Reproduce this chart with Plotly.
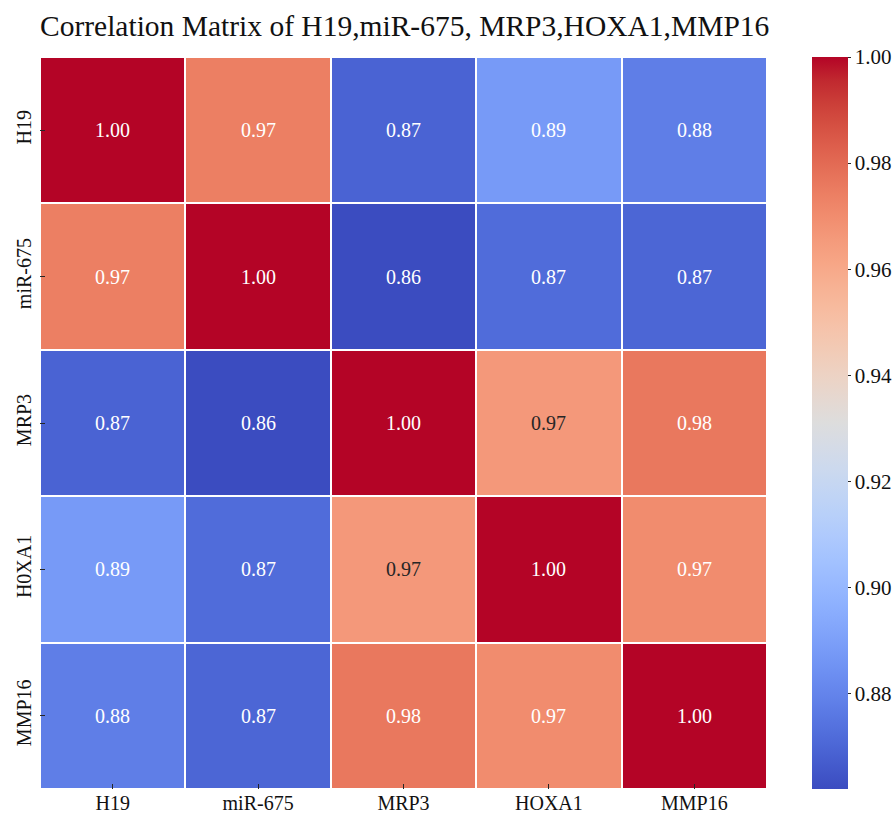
import plotly.graph_objects as go

# Correlation matrix of the five markers
x_labels = ["H19", "miR-675", "MRP3", "HOXA1", "MMP16"]
y_labels = ["H19", "miR-675", "MRP3", "H0XA1", "MMP16"]

row_h19 = [1.000, 0.974, 0.869, 0.888, 0.878]
row_mir675 = [0.974, 1.000, 0.862, 0.872, 0.870]
row_mrp3 = [0.869, 0.862, 1.000, 0.966, 0.976]
row_hoxa1 = [0.888, 0.872, 0.966, 1.000, 0.970]
row_mmp16 = [0.878, 0.870, 0.976, 0.970, 1.000]

corr = [row_h19, row_mir675, row_mrp3, row_hoxa1, row_mmp16]

cbar_ticks = [0.88, 0.90, 0.92, 0.94, 0.96, 0.98, 1.00]

# matplotlib "coolwarm" (Moreland diverging map)
coolwarm_rgb = [
    (59, 76, 192), (68, 90, 204), (77, 104, 215), (87, 117, 225),
    (98, 130, 234), (108, 142, 241), (119, 154, 247), (130, 165, 251),
    (141, 176, 254), (152, 185, 255), (163, 194, 255), (174, 201, 253),
    (184, 208, 249), (194, 213, 244), (204, 217, 238), (213, 219, 230),
    (221, 221, 221), (229, 216, 209), (236, 211, 197), (241, 204, 184),
    (245, 196, 172), (247, 187, 159), (247, 177, 147), (247, 166, 134),
    (244, 154, 123), (241, 141, 111), (236, 127, 99), (229, 112, 88),
    (222, 96, 77), (213, 80, 66), (203, 62, 56), (192, 40, 47),
    (180, 4, 38),
]
n = len(coolwarm_rgb) - 1
colorscale = [[i / n, "rgb(%d,%d,%d)" % c] for i, c in enumerate(coolwarm_rgb)]

flat = [v for r in corr for v in r]
zmin, zmax = min(flat), max(flat)


def cmap(t):
    t = min(max(t, 0.0), 1.0) * n
    i = min(int(t), n - 1)
    f = t - i
    a, b = coolwarm_rgb[i], coolwarm_rgb[i + 1]
    return [a[k] + (b[k] - a[k]) * f for k in range(3)]


def luminance(rgb):
    out = []
    for c in rgb:
        c = c / 255.0
        out.append(c / 12.92 if c <= 0.03928 else ((c + 0.055) / 1.055) ** 2.4)
    return 0.2126 * out[0] + 0.7152 * out[1] + 0.0722 * out[2]


serif = "Liberation Serif"

fig = go.Figure(
    go.Heatmap(
        z=corr,
        x=x_labels,
        y=y_labels,
        colorscale=colorscale,
        zmin=zmin,
        zmax=zmax,
        xgap=2,
        ygap=2,
        hoverongaps=False,
        colorbar=dict(
            x=1.062,
            xanchor="left",
            xpad=0,
            y=0.5,
            yanchor="middle",
            ypad=0,
            len=1.0,
            lenmode="fraction",
            thickness=36,
            outlinewidth=0,
            tickvals=cbar_ticks,
            ticktext=["%.2f" % t for t in cbar_ticks],
            ticks="outside",
            ticklen=3,
            tickcolor="#262626",
            tickfont=dict(family=serif, size=21, color="#111111"),
        ),
    )
)

# value labels in each cell, dark text on light cells
for i, row in enumerate(corr):
    for j, v in enumerate(row):
        rgb = cmap((v - zmin) / (zmax - zmin))
        col = "#262626" if luminance(rgb) > 0.408 else "#ffffff"
        fig.add_annotation(
            x=x_labels[j], y=y_labels[i], text="%.2f" % v, showarrow=False,
            font=dict(family=serif, size=20, color=col),
        )

fig.update_layout(
    width=895,
    height=816,
    margin=dict(l=40, r=128, t=57, b=27, autoexpand=False),
    paper_bgcolor="white",
    plot_bgcolor="white",
    title=dict(
        text="Correlation Matrix of H19,miR-675, MRP3,HOXA1,MMP16",
        x=0.0,
        xref="paper",
        xanchor="left",
        y=1 - 26 / 816,
        yref="container",
        yanchor="middle",
        font=dict(family=serif, size=29.5, color="#111111"),
    ),
    font=dict(family=serif, color="#111111"),
)
fig.update_xaxes(
    showgrid=False, zeroline=False, ticks="inside", ticklen=5,
    tickcolor="#262626", tickfont=dict(family=serif, size=20, color="#111111"),
    showline=False, automargin=False, ticklabelstandoff=0,
)
fig.update_yaxes(
    showgrid=False, zeroline=False, ticks="inside", ticklen=5,
    tickcolor="#262626", tickfont=dict(family=serif, size=20, color="#111111"),
    autorange="reversed", tickangle=-90, showline=False, automargin=False,
    ticklabelstandoff=4,
)

fig.write_html("out.html")
